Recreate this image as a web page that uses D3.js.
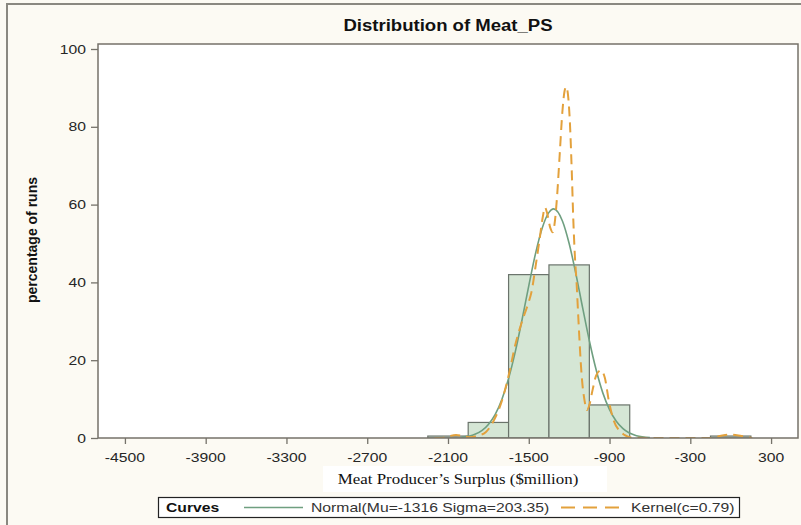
<!DOCTYPE html>
<html>
<head>
<meta charset="utf-8">
<style>
  body { margin: 0; background: #fcfaf3; }
  svg { display: block; }
</style>
</head>
<body>
<script src="https://cdn.jsdelivr.net/npm/d3@7"></script>
<script>
// histogram bins (midpoint, percent of runs), bin width 300
var binMids = [-2100, -1800, -1500, -1200, -900, 0];
var binPct = [0.5, 4, 42, 44.5, 8.5, 0.5];
var binWidth = 300;

// fitted normal curve
var normalX = [-2000, -1900, -1800, -1750, -1700, -1650, -1600, -1550, -1500, -1450, -1400, -1350, -1316,
               -1250, -1200, -1150, -1100, -1050, -1000, -950, -900, -850, -800, -700, -600];
var normalY = [0.2, 0.95, 3.5, 6.0, 9.9, 15.3, 22.2, 30.4, 39.1, 47.4, 54.0, 58.0, 58.9,
               55.8, 50.0, 42.2, 33.5, 25.0, 17.6, 11.6, 7.3, 4.3, 2.4, 0.6, 0.1];

// kernel density curve
var kernelX = [-2200, -2150, -2100, -2040, -1980, -1940, -1880, -1820, -1760, -1700, -1650, -1600, -1540,
               -1500, -1480, -1450, -1420, -1395, -1380, -1365, -1340, -1322, -1305, -1290, -1270, -1250,
               -1235, -1222, -1208, -1195, -1181, -1169, -1157, -1145, -1132, -1107, -1085, -1068, -1050,
               -1025, -1000, -965, -935, -905, -870, -830, -790, -740, -600, -300, -150, -80, 0, 80, 160];
var kernelY = [0, 0, 0.4, 0.8, 0.4, 0.2, 0.6, 1.5, 4.5, 9.5, 16, 24, 31,
               35, 37.5, 44, 51, 57, 59.3, 58, 54, 52.9, 56, 62, 73, 84,
               89, 90.3, 88, 81.5, 69, 56, 46.5, 40, 31, 16, 9.5, 7.2, 8.5,
               12.5, 16, 17.4, 15.5, 9.5, 4.6, 2, 0.8, 0.1, 0, 0, 0, 0.5, 0.9, 0.5, 0];

var xTicks = [-4500, -3900, -3300, -2700, -2100, -1500, -900, -300, 300];
var yTicks = [0, 20, 40, 60, 80, 100];

var W = 801, H = 525;
var pL = 98, pR = 798, pT = 44, pB = 438;
var sx = 1.21; // text in the picture is wider than normal

var svg = d3.select("body").append("svg")
  .attr("width", W).attr("height", H);

svg.append("rect").attr("width", W).attr("height", H).attr("fill", "#fcfaf3");
// outer frame (right/bottom edges fall outside the picture)
svg.append("rect")
  .attr("x", 7).attr("y", 4).attr("width", W + 10).attr("height", H + 10)
  .attr("fill", "none").attr("stroke", "#8a8880").attr("stroke-width", 2);

var x = d3.scaleLinear().domain([-4700, 500]).range([pL, pR]);
var y = d3.scaleLinear().domain([0, 100]).range([pB, 49]);

svg.append("rect")
  .attr("x", pL).attr("y", pT).attr("width", pR - pL).attr("height", pB - pT)
  .attr("fill", "#ffffff");

svg.append("clipPath").attr("id", "clip")
  .append("rect").attr("x", pL).attr("y", pT).attr("width", pR - pL).attr("height", pB - pT);

var plot = svg.append("g").attr("clip-path", "url(#clip)");

plot.selectAll("rect.bar")
  .data(binMids)
  .enter()
  .append("rect")
  .attr("class", "bar")
  .attr("x", function(d) { return x(d - binWidth / 2); })
  .attr("width", function(d) { return x(d + binWidth / 2) - x(d - binWidth / 2); })
  .attr("y", function(d, i) { return y(binPct[i]); })
  .attr("height", function(d, i) { return y(0) - y(binPct[i]); })
  .attr("fill", "#d5e6d5")
  .attr("stroke", "#6a736b")
  .attr("stroke-width", 1.2);

var line = d3.line()
  .x(function(d) { return x(d[0]); })
  .y(function(d) { return y(d[1]); })
  .curve(d3.curveMonotoneX);

plot.append("path")
  .datum(d3.zip(normalX, normalY))
  .attr("d", line)
  .attr("fill", "none")
  .attr("stroke", "#6f9f80")
  .attr("stroke-width", 1.6);

plot.append("path")
  .datum(d3.zip(kernelX, kernelY))
  .attr("d", line)
  .attr("fill", "none")
  .attr("stroke", "#e3a13c")
  .attr("stroke-width", 2)
  .attr("stroke-dasharray", "10,6");

// frame and axes
svg.append("rect")
  .attr("x", pL).attr("y", pT).attr("width", pR - pL).attr("height", pB - pT)
  .attr("fill", "none").attr("stroke", "#75726a").attr("stroke-width", 1.5);

function txt(px, py, s, o) {
  o = o || {};
  var g = svg.append("g")
    .attr("transform", "translate(" + px + "," + py + ")" + (o.rot ? " rotate(" + o.rot + ")" : "") +
          " scale(" + (o.sx || 1) + ",1)");
  return g.append("text")
    .attr("text-anchor", o.anchor || "middle")
    .attr("font-family", o.family || "'Liberation Sans', Arial, sans-serif")
    .attr("font-size", (o.size || 13) + "px")
    .attr("font-weight", o.bold ? "bold" : "normal")
    .attr("fill", o.fill || "#2a2a2a")
    .text(s);
}

var xAxis = svg.append("g")
  .attr("transform", "translate(0," + pB + ")")
  .call(d3.axisBottom(x).tickValues(xTicks).tickSize(6).tickFormat(""));
var yAxis = svg.append("g")
  .attr("transform", "translate(" + pL + ",0)")
  .call(d3.axisLeft(y).tickValues(yTicks).tickSize(7).tickFormat(""));
[xAxis, yAxis].forEach(function(a) {
  a.select(".domain").remove();
  a.selectAll(".tick line").attr("stroke", "#75726a").attr("stroke-width", 1.3);
});

xTicks.forEach(function(t) {
  txt(x(t), 462, d3.format("d")(t).replace("\u2212", "-"), { sx: sx, fill: "#262626" });
});
yTicks.forEach(function(t) {
  txt(86, y(t) + 4.5, t, { sx: sx, anchor: "end", fill: "#262626" });
});

txt(448, 31, "Distribution of Meat_PS", { size: 16, bold: true, sx: 1.16, fill: "#111" });
txt(37, 240, "percentage of runs", { size: 14, bold: true, rot: -90, fill: "#111" });

// x axis title on a white strip
svg.append("rect").attr("x", 323).attr("y", 466).attr("width", 284).attr("height", 26).attr("fill", "#ffffff");
txt(458, 484, "Meat Producer\u2019s Surplus ($million)",
    { size: 14, sx: 1.21, family: "'Liberation Serif', 'Times New Roman', serif", fill: "#111" });

// legend
svg.append("rect").attr("x", 158.5).attr("y", 497.5).attr("width", 581).attr("height", 20)
  .attr("fill", "#ffffff").attr("stroke", "#222").attr("stroke-width", 1.2);
txt(166, 512, "Curves", { size: 13, bold: true, sx: sx, anchor: "start", fill: "#111" });
svg.append("line").attr("x1", 244).attr("x2", 303).attr("y1", 507.5).attr("y2", 507.5)
  .attr("stroke", "#6f9f80").attr("stroke-width", 1.6);
txt(311, 512, "Normal(Mu=-1316 Sigma=203.35)", { size: 13, sx: sx, anchor: "start", fill: "#333" });
svg.append("line").attr("x1", 561).attr("x2", 619).attr("y1", 507.5).attr("y2", 507.5)
  .attr("stroke", "#e3a13c").attr("stroke-width", 2).attr("stroke-dasharray", "14,8");
txt(631, 512, "Kernel(c=0.79)", { size: 13, sx: sx, anchor: "start", fill: "#333" });
</script>
</body>
</html>
